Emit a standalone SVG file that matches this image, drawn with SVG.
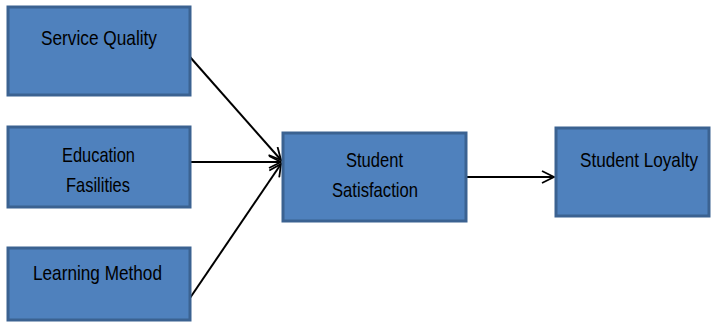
<svg xmlns="http://www.w3.org/2000/svg" width="713" height="322" viewBox="0 0 713 322">
<style>
.box{fill:#4f81bd;stroke:#3b6291;stroke-width:3}
.t{font-family:"Liberation Sans",Arial,sans-serif;font-size:21px;fill:#000}
.c{stroke:#000;stroke-width:2;fill:none}
</style>
<defs>
<marker id="ah" viewBox="0 0 14 14" refX="13" refY="7" markerWidth="14" markerHeight="14" markerUnits="userSpaceOnUse" orient="auto">
<polyline points="1,1 13,7 1,13" fill="none" stroke="#000" stroke-width="1.8"/>
</marker>
</defs>
<rect width="713" height="322" fill="#fff"/>
<g id="connectors">
<line class="c" x1="190" y1="57" x2="281" y2="160" marker-end="url(#ah)"/>
<line class="c" x1="190" y1="162" x2="281" y2="162" marker-end="url(#ah)"/>
<line class="c" x1="190" y1="298" x2="281" y2="164" marker-end="url(#ah)"/>
<line class="c" x1="467" y1="177" x2="554" y2="177" marker-end="url(#ah)"/>
</g>
<g id="service-quality">
<rect class="box" x="8" y="7" width="182" height="88"/>
<text class="t" x="41" y="45" textLength="116" lengthAdjust="spacingAndGlyphs">Service Quality</text>
</g>
<g id="education-fasilities">
<rect class="box" x="8" y="127" width="182" height="80"/>
<text class="t" x="62" y="162" textLength="73" lengthAdjust="spacingAndGlyphs">Education</text>
<text class="t" x="66" y="192" textLength="64" lengthAdjust="spacingAndGlyphs">Fasilities</text>
</g>
<g id="learning-method">
<rect class="box" x="8" y="248" width="182" height="72"/>
<text class="t" x="33" y="280" textLength="129" lengthAdjust="spacingAndGlyphs">Learning Method</text>
</g>
<g id="student-satisfaction">
<rect class="box" x="283" y="133" width="183" height="88"/>
<text class="t" x="346" y="167" textLength="57" lengthAdjust="spacingAndGlyphs">Student</text>
<text class="t" x="332" y="197" textLength="86" lengthAdjust="spacingAndGlyphs">Satisfaction</text>
</g>
<g id="student-loyalty">
<rect class="box" x="556" y="128" width="153" height="88"/>
<text class="t" x="580" y="167" textLength="118" lengthAdjust="spacingAndGlyphs">Student Loyalty</text>
</g>
</svg>
